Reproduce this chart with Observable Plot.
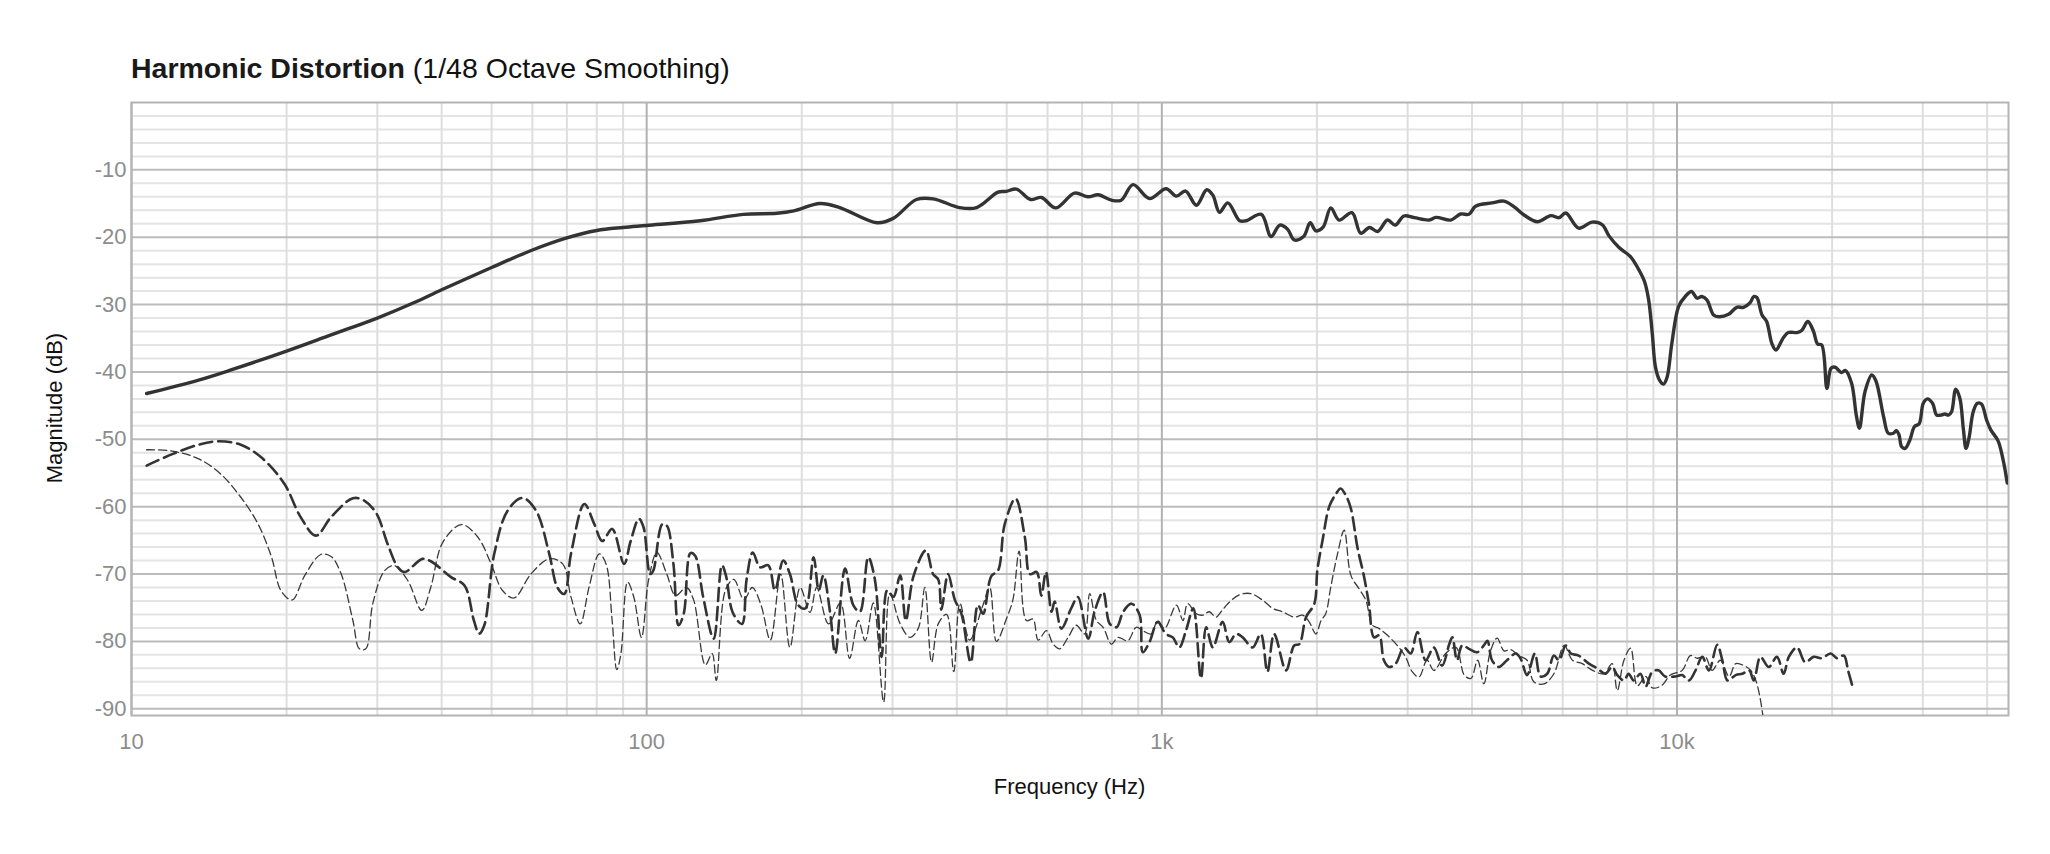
<!DOCTYPE html>
<html>
<head>
<meta charset="utf-8">
<script src="https://cdn.jsdelivr.net/npm/d3@7"></script>
<script src="https://cdn.jsdelivr.net/npm/@observablehq/plot@0.6"></script>
<style>
  body { margin: 0; background: #fff; }
  #wrap { position: relative; width: 2050px; height: 854px; font-family: "Liberation Sans", Arial, Helvetica, sans-serif; }
  #chart { position: absolute; left: 0; top: 0; }
  #title { position: absolute; left: 131px; top: 54px; font-size: 28.5px; line-height: 28.5px; color: #111; white-space: nowrap; }
  #title b { font-weight: 700; color: #1a1a1a; }
  #xlabel { position: absolute; left: 131px; width: 1877px; top: 776px; text-align: center; font-size: 22px; line-height: 22px; color: #111; }
  #ylabel { position: absolute; left: -95px; top: 393px; width: 300px; height: 30px; line-height: 30px; text-align: center; font-size: 22px; color: #111; transform: rotate(-90deg); }
</style>
</head>
<body>
<div id="wrap">
  <div id="chart"></div>
  <div id="title"><b>Harmonic Distortion</b> (1/48 Octave Smoothing)</div>
  <div id="xlabel">Frequency (Hz)</div>
  <div id="ylabel">Magnitude (dB)</div>
</div>
<script>
// ---- tick labels ----
const xTickValues = [10, 100, 1000, 10000];
const xTickLabels = ["10", "100", "1k", "10k"];
const yTickValues = [-10, -20, -30, -40, -50, -60, -70, -80, -90];
const yTickLabels = ["-10", "-20", "-30", "-40", "-50", "-60", "-70", "-80", "-90"];

// ---- fundamental (solid) ----
const fundFreq = [10.7,13.5,15.6,20,24.4,30,35.4,40,50,60,
70,80,90,100,127,154,179,193,217,237,
280,301,334,360,405,437,481,499,522,556,
584,622,677,719,752,798,834,879,946,1019,
1067,1112,1167,1222,1256,1294,1343,1416,1459,1560,
1629,1694,1754,1807,1884,1941,1991,2056,2128,2208,
2339,2432,2529,2624,2742,2838,2951,3090,3304,3404,
3639,3802,3945,4064,4375,4613,4831,5047,5358,5689,
5902,6081,6442,6839,7161,7379,7709,8128,8433,8650,
8810,8954,9078,9247,9419,9572,9772,10069,10375,10666,
10940,11169,11429,11776,12050,12589,13062,13459,13868,14093,
14289,14622,14928,15276,15560,16106,16444,17100,17458,17947,
18408,18750,19099,19543,19907,20277,20845,21232,21827,22284,
22594,23174,23878,24322,25177,25704,26303,26669,26977,27290,
27733,28314,28907,29512,30061,30620,31333,31915,32509,33113,
33651,34119,34754,35400,35975,36392,36898,37584,38282,38994,
39902,40644,41976,42954,43752];
const fundDb = [-43.2,-41.2,-39.7,-36.9,-34.5,-32.0,-29.7,-27.8,-24.5,-21.9,
-20.1,-19.0,-18.55,-18.25,-17.55,-16.6,-16.45,-16.1,-15.0,-15.6,
-17.85,-17.2,-14.4,-14.3,-15.6,-15.6,-13.3,-13.2,-12.85,-14.4,
-14.1,-15.65,-13.45,-14.0,-13.7,-14.5,-14.5,-12.2,-14.25,-12.8,
-13.9,-13.15,-15.25,-12.95,-13.75,-16.3,-14.9,-17.55,-17.55,-16.6,
-19.9,-18.2,-18.8,-20.4,-19.9,-17.85,-19.05,-18.5,-15.65,-17.45,
-16.35,-19.4,-18.55,-19.15,-17.45,-18.2,-16.85,-17.1,-17.45,-17.05,
-17.45,-16.55,-16.6,-15.4,-14.9,-14.65,-15.5,-16.7,-17.7,-16.8,
-17.1,-16.4,-18.65,-17.75,-18.15,-19.8,-21.5,-22.9,-24.85,-26.6,
-29.3,-34.3,-39.2,-41.2,-41.8,-40.7,-35.75,-30.3,-28.8,-28.05,
-29.05,-28.8,-29.3,-31.55,-31.8,-31.45,-30.4,-30.4,-29.7,-28.8,
-28.95,-31.55,-32.5,-35.75,-36.75,-34.85,-34.15,-34.15,-33.85,-32.5,
-34.0,-35.85,-36.0,-42.45,-39.45,-39.3,-40.1,-39.8,-41.7,-46.4,
-48.35,-42.9,-40.45,-41.3,-46.65,-49.1,-49.1,-48.7,-49.35,-51.1,
-51.35,-50.1,-48.1,-47.7,-44.65,-44.0,-44.65,-46.4,-46.4,-46.25,
-46.4,-45.9,-42.55,-43.9,-48.6,-51.35,-49.7,-45.9,-44.65,-44.75,
-47.15,-48.6,-50.2,-53.05,-56.5];

// ---- 2nd harmonic (thick dashed) ----
const h2Freq = [10.7,12.0,13.5,14.7,16.3,17.9,19.8,21.3,22.8,24.4,
26.9,28.3,29.9,31.4,32.9,33.9,36.7,38.1,41.7,44.3,
46.2,47.3,48.4,50.6,53.7,57.4,61.0,64.7,67.1,69.2,
71.3,75.7,79.1,82.0,85.7,90.4,93.1,96.6,98.6,101.6,
103,107.2,109.4,112.7,115.3,118,121.6,124.2,128.8,134.9,
140,142.6,146.9,153.1,156.3,160.7,166,172.2,177.4,184.1,
189.7,196.8,203.2,210.9,215.8,220.3,227,232.3,242.7,251.8,
259.4,269.2,277.3,285.8,293.1,301.3,310.5,318.4,329.6,348.3,
359.7,368.1,373.3,384.6,396.3,408.3,425.6,439.5,449.8,466.7,
480.8,495.5,520,542,554.6,571.5,583.4,595.7,610.9,619.4,
638.3,666.8,687.1,719.5,741.3,769.1,792.5,816.6,841.4,873,
905.7,918.3,946.2,981.7,1018,1050,1081,1114,1151,1191,
1219,1256,1312,1352,1393,1435,1500,1556,1603,1652,
1742,1807,1849,1905,1977,2004,2051,2113,2178,2223,
2275,2328,2399,2466,2523,2582,2642,2698,2761,2844,
2951,3041,3133,3251,3373,3499,3614,3664,3741,3828,
3945,4093,4217,4285,4375,4508,4677,4864,4966,5117,
5297,5433,5598,5768,5902,6081,6223,6442,6745,6998,
7261,7482,7656,7889,8054,8241,8492,8690,8954,9204,
9484,9931,10233,10544,10864,11194,11535,11967,12246,12531,
13002,13397,13804,14093,14521,15066,15631,16106,16482,17100,
17742,18408,19099,19861,20464,21086,21478,21878];
const h2Db = [-53.9,-52.2,-50.8,-50.3,-50.8,-52.75,-56.6,-61.55,-64.3,-61.55,
-58.75,-59.1,-61.05,-65.5,-69.0,-69.7,-67.75,-68.1,-70.45,-71.7,
-76.9,-78.85,-77.6,-67.0,-60.6,-58.7,-60.6,-67.0,-72.0,-72.95,
-67.0,-59.6,-62.55,-65.1,-63.3,-68.5,-65.1,-61.8,-63.05,-70.0,
-69.5,-62.6,-62.8,-68.5,-77.6,-75.9,-66.9,-67.3,-73.5,-79.6,
-68.7,-70.3,-75.7,-77.4,-70.8,-66.8,-69.0,-68.7,-72.4,-68.0,
-70.0,-74.6,-75.1,-67.5,-72.4,-70.2,-75.7,-81.8,-69.2,-74.6,
-75.6,-67.5,-70.8,-82.3,-72.4,-73.4,-70.2,-76.9,-70.3,-66.5,
-70.0,-70.8,-75.3,-70.0,-73.8,-75.9,-83.1,-74.6,-75.9,-70.3,
-69.5,-62.6,-58.8,-64.5,-70.0,-69.7,-73.2,-69.7,-75.6,-74.1,
-78.1,-75.1,-73.4,-79.6,-75.4,-72.7,-77.4,-77.9,-75.6,-74.4,
-76.1,-81.6,-80.1,-77.1,-78.9,-79.4,-80.9,-78.4,-75.1,-85.5,
-77.9,-80.9,-77.1,-80.1,-78.9,-79.4,-80.9,-78.9,-84.5,-78.9,
-84.3,-80.6,-80.4,-76.4,-74.4,-69.4,-65.0,-60.0,-58.1,-57.3,
-58.3,-60.3,-66.2,-70.2,-74.4,-79.4,-79.1,-82.8,-83.8,-83.3,
-80.9,-81.8,-78.6,-82.8,-80.9,-83.6,-80.4,-79.4,-82.8,-80.6,
-81.1,-81.6,-80.6,-79.9,-82.8,-83.8,-82.8,-81.8,-82.5,-85.0,
-81.8,-85.2,-84.8,-82.1,-82.8,-80.6,-81.8,-82.1,-83.3,-84.0,
-84.8,-83.8,-85.0,-85.8,-84.8,-85.8,-84.8,-86.7,-84.5,-84.3,
-85.2,-85.2,-85.0,-85.8,-84.3,-82.3,-84.3,-80.5,-82.8,-85.8,
-85.0,-84.8,-84.3,-85.8,-82.3,-83.8,-82.3,-84.8,-82.3,-80.9,
-83.1,-82.3,-82.5,-81.8,-82.5,-82.1,-84.3,-86.5];

// ---- 3rd harmonic (thin dashed) ----
const h3Freq = [10.7,12.0,13.5,14.9,16.3,17.6,18.7,19.5,20.5,21.7,
23.3,24.4,25.5,26.9,27.7,28.5,29.4,31.0,32.4,34.4,
36.6,38.1,40.2,43.7,47.0,49.9,52.5,55.3,59.6,64.7,
68.7,71.3,74.3,77.3,80.9,83.4,85.7,87.5,89.1,91.8,
94.4,97.7,100.9,104.7,109.4,113.8,119.4,123.3,130,134,
136.5,142.2,147.6,154.5,160.3,166.7,173.8,182,189.7,198.6,
207.5,213.8,225.4,237.7,247.7,257.6,265.5,275.4,288.4,296.5,
310.5,324.3,336.5,346.7,357.3,368.1,382.1,394.5,405.5,423.6,
448.7,463.4,477.5,498.9,514,528.4,545.8,562.3,575.4,597,
615.2,633.9,657.7,682.3,707.9,724.4,746.4,769.1,798,822.2,
859,891.3,918.3,952.8,981.7,1012,1067,1099,1122,1167,
1202,1236,1274,1303,1343,1413,1489,1570,1641,1714,
1807,1875,1932,1991,2037,2080,2128,2193,2259,2328,
2415,2489,2564,2642,2742,2864,2972,3062,3155,3273,
3373,3556,3724,3864,3981,4102,4217,4345,4477,4613,
4753,4932,5117,5272,5521,5768,6039,6266,6546,6855,
7211,7482,7656,7889,8128,8375,8690,8954,9354,9705,
10233,10617,10940,11350,11695,12134,12618,13002,13490,13900,
14223,14521,14791];
const h3Db = [-51.55,-51.75,-52.9,-55.15,-58.6,-62.55,-67.5,-72.45,-73.85,-70.2,
-67.1,-67.4,-69.9,-76.9,-81.1,-81.1,-74.4,-69.5,-68.75,-71.0,
-75.4,-71.95,-65.3,-62.65,-64.5,-68.5,-72.45,-73.55,-70.0,-67.75,
-68.5,-73.4,-77.4,-71.95,-67.0,-68.5,-76.9,-84.2,-81.9,-71.2,
-73.4,-79.4,-70.8,-66.8,-70.0,-73.2,-72.0,-73.8,-83.5,-81.8,
-85.8,-72.4,-70.8,-73.8,-72.0,-74.6,-79.8,-70.0,-80.9,-72.0,
-75.7,-72.0,-77.4,-74.3,-82.5,-76.9,-79.9,-74.3,-89.0,-72.9,
-77.4,-79.4,-78.1,-72.0,-83.1,-77.4,-76.0,-84.5,-74.3,-79.8,
-74.8,-72.0,-80.0,-76.7,-73.8,-66.6,-76.9,-76.7,-79.8,-78.4,
-80.4,-81.1,-79.4,-77.6,-78.9,-72.9,-76.9,-77.9,-80.4,-79.4,
-79.9,-77.9,-78.4,-78.9,-76.9,-78.1,-74.6,-76.9,-74.4,-75.9,
-76.1,-75.6,-76.4,-75.6,-74.4,-73.1,-72.9,-73.9,-75.1,-75.6,
-76.4,-76.1,-77.1,-78.9,-76.9,-75.9,-71.9,-67.0,-63.5,-70.2,
-72.2,-73.9,-77.6,-78.1,-79.1,-80.6,-82.3,-84.5,-85.3,-82.8,
-84.3,-81.8,-80.9,-85.0,-85.5,-82.8,-86.3,-81.4,-79.5,-81.4,
-81.2,-82.1,-82.8,-86.0,-86.3,-84.8,-80.6,-82.8,-83.3,-84.3,
-84.8,-83.3,-87.3,-82.8,-81.0,-86.6,-85.2,-86.9,-86.5,-85.0,
-84.3,-82.1,-82.5,-82.3,-84.3,-82.8,-85.2,-83.3,-83.6,-84.3,
-85.8,-88.7,-93];

// ---- build tables ----
const zip = (fs, ds) => fs.map((f, i) => ({ f, db: ds[i] }));
const fund = zip(fundFreq, fundDb);
const h2 = zip(h2Freq, h2Db);
const h3 = zip(h3Freq, h3Db);

// grid positions
const xDomain = [10, 44000];
const xMinor = [];
for (const dec of [10, 100, 1000, 10000]) {
  for (let k = 2; k <= 9; k++) { const v = dec * k; if (v < xDomain[1]) xMinor.push(v); }
}
const yMinor = d3.range(-88, 0, 2).filter(d => d % 10 !== 0);

const tickColor = "#8c8c8c";
const chart = Plot.plot({
  width: 2050,
  height: 854,
  marginLeft: 131,
  marginRight: 42,
  marginTop: 102,
  marginBottom: 139,
  x: { type: "log", domain: xDomain, axis: null },
  y: { domain: [-91, 0], axis: null },
  style: { fontFamily: '"Liberation Sans", Arial, Helvetica, sans-serif', background: "transparent" },
  marks: [
    Plot.ruleY(yMinor, { stroke: "#e4e4e4", strokeWidth: 2 }),
    Plot.ruleX(xMinor, { stroke: "#dedede", strokeWidth: 2 }),
    Plot.ruleY(yTickValues, { stroke: "#bcbcbc", strokeWidth: 2 }),
    Plot.ruleX(xTickValues, { stroke: "#b2b2b2", strokeWidth: 2 }),
    Plot.frame({ stroke: "#b4b4b4", strokeWidth: 2 }),
    Plot.line(h3, { x: "f", y: "db", stroke: "#3a3a3a", strokeWidth: 1.3, strokeDasharray: "8,4", curve: "catmull-rom", clip: true }),
    Plot.line(h2, { x: "f", y: "db", stroke: "#333", strokeWidth: 2.6, strokeDasharray: "13,6", curve: "catmull-rom", clip: true }),
    Plot.line(fund, { x: "f", y: "db", stroke: "#333", strokeWidth: 3.4, curve: "catmull-rom", clip: true }),
    Plot.text(xTickValues, { x: d => d, text: (d, i) => xTickLabels[i], frameAnchor: "bottom", lineAnchor: "top", dy: 18, fill: tickColor, fontSize: 22 }),
    Plot.text(yTickValues, { y: d => d, text: (d, i) => yTickLabels[i], frameAnchor: "left", textAnchor: "end", dx: -5, fill: tickColor, fontSize: 22 })
  ]
});
document.getElementById("chart").appendChild(chart);
</script>
</body>
</html>
